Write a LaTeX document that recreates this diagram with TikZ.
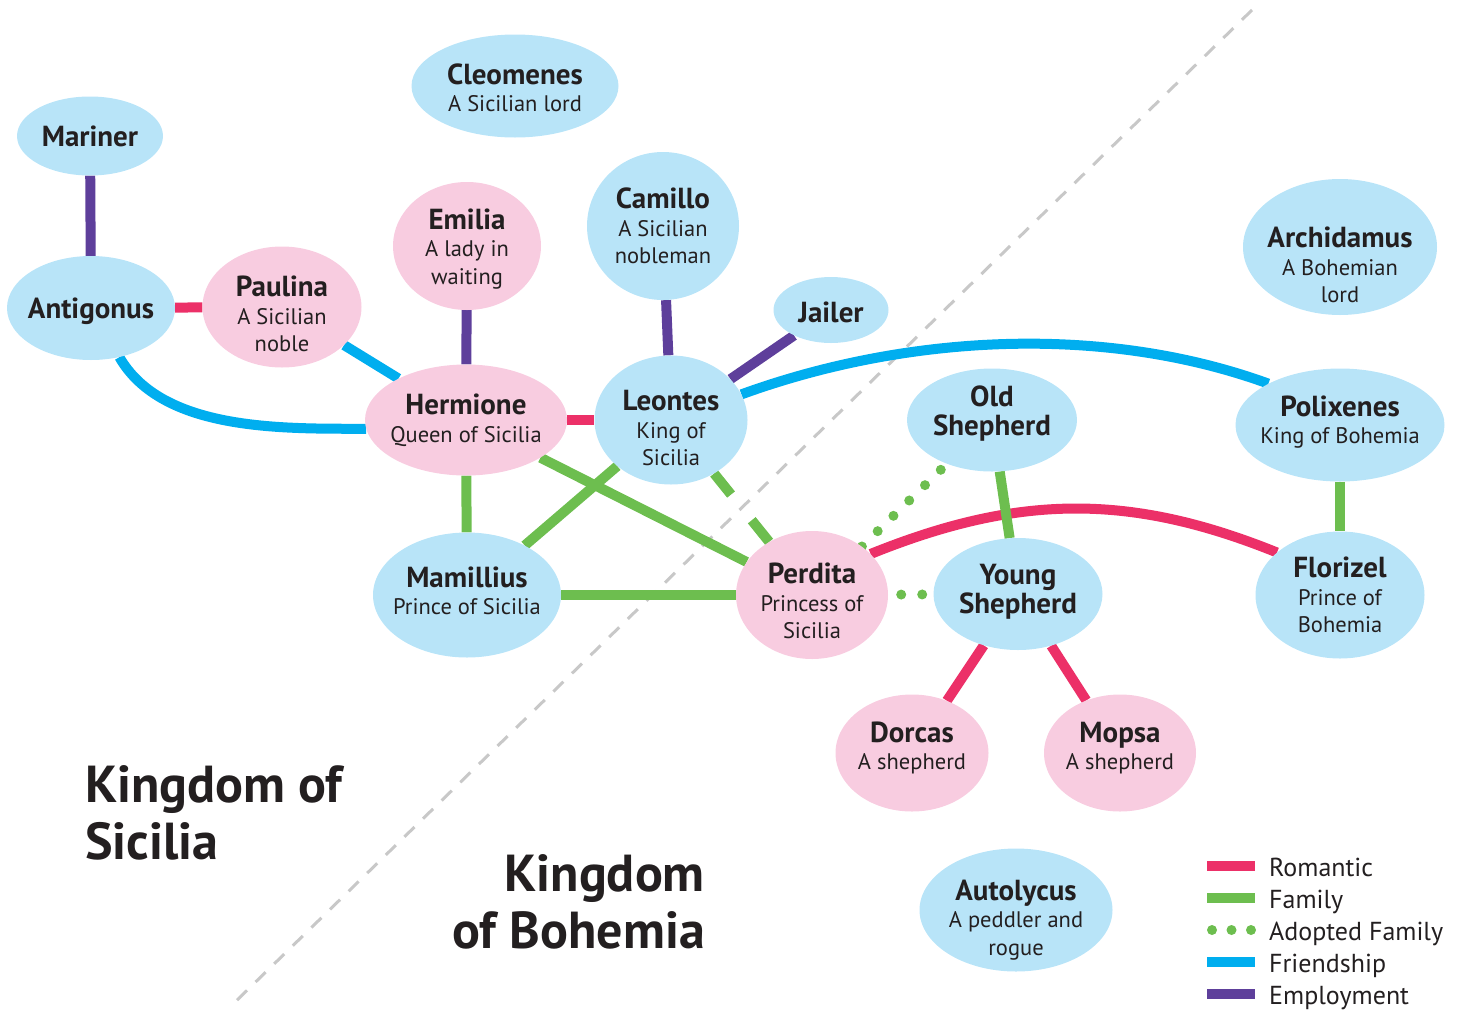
\documentclass[tikz,border=0pt]{standalone}
\usepackage{fontspec}
\setmainfont{PT Sans}
\usetikzlibrary{shapes.geometric,positioning,backgrounds}

\definecolor{ink}{HTML}{231F20}
\definecolor{skyfill}{HTML}{B8E4F8}
\definecolor{rosefill}{HTML}{F8CCE0}
\definecolor{romred}{HTML}{EC3068}
\definecolor{famgreen}{HTML}{6DBE4F}
\definecolor{friendblue}{HTML}{00AEEF}
\definecolor{employpurple}{HTML}{5E3F9B}
\definecolor{bordergray}{HTML}{C8C8C8}

\newcommand{\descfont}{\fontsize{22.5}{27.5}\selectfont}
\newcommand{\namefont}{\fontsize{29}{29}\selectfont\bfseries}
\newcommand{\who}[1]{{\namefont #1}}

\begin{document}
\begin{tikzpicture}[x=1pt, y=-1pt,
    person/.style={ellipse, inner sep=0pt},
    bluebub/.style={person, fill=skyfill},
    pinkbub/.style={person, fill=rosefill},
    tag/.style={align=center, text=ink, font=\descfont, inner sep=0pt},
    tie/.style={line width=10pt},
    romantic/.style={tie, draw=romred},
    family/.style={tie, draw=famgreen},
    adopted/.style={tie, draw=famgreen, line cap=round, dash pattern=on 0pt off 22pt},
    friendship/.style={tie, draw=friendblue},
    employment/.style={tie, draw=employpurple},
    frontier/.style={draw=bordergray, line width=3pt, dash pattern=on 14pt off 12pt},
    kingdom/.style={font=\fontsize{52}{57}\selectfont\bfseries, text=ink, inner sep=0pt},
    keytext/.style={font=\fontsize{26}{32}\selectfont, text=ink, anchor=base west, inner sep=0pt}
]
\useasboundingbox (0,0) rectangle (1462,1010);
% Sicilian court
\node[bluebub, minimum width=207pt, minimum height=103pt,
    label={[tag, yshift=-2pt]center:{\who{Cleomenes}\\A Sicilian lord}}] (cleomenes) at (515,86) {};
\node[bluebub, minimum width=146pt, minimum height=79pt,
    label={[tag, font=\namefont]center:Mariner}] (mariner) at (90,136) {};
\node[bluebub, minimum width=168pt, minimum height=104pt,
    label={[tag, font=\namefont, yshift=-3pt]center:Antigonus}] (antigonus) at (91,308) {};
\node[pinkbub, minimum width=159pt, minimum height=121pt,
    label={[tag, yshift=-7pt]center:{\who{Paulina}\\A Sicilian\\noble}}] (paulina) at (282,307) {};
\node[pinkbub, minimum width=148pt, minimum height=128pt,
    label={[tag, yshift=-3pt]center:{\who{Emilia}\\A lady in\\waiting}}] (emilia) at (467,246) {};
\node[bluebub, minimum width=152pt, minimum height=148pt,
    label={[tag]center:{\who{Camillo}\\A Sicilian\\nobleman}}] (camillo) at (663,226) {};
\node[pinkbub, minimum width=202pt, minimum height=111pt,
    label={[tag]center:{\who{Hermione}\\Queen of Sicilia}}] (hermione) at (466,420) {};
\node[bluebub, minimum width=153pt, minimum height=129pt,
    label={[tag, yshift=-8pt]center:{\who{Leontes}\\King of\\Sicilia}}] (leontes) at (671,420) {};
\node[bluebub, minimum width=115pt, minimum height=66pt,
    label={[tag, font=\namefont, yshift=-2pt]center:Jailer}] (jailer) at (831,310) {};
\node[bluebub, minimum width=188pt, minimum height=125pt,
    label={[tag, yshift=4pt]center:{\who{Mamillius}\\Prince of Sicilia}}] (mamillius) at (467,595) {};
\node[pinkbub, minimum width=152pt, minimum height=128pt,
    label={[tag, yshift=-6pt]center:{\who{Perdita}\\Princess of\\Sicilia}}] (perdita) at (812,595) {};
% Bohemian court
\node[bluebub, minimum width=170pt, minimum height=103pt,
    label={[tag, font=\namefont, yshift=6pt]center:{Old\\Shepherd}}] (oldshep) at (992,420) {};
\node[bluebub, minimum width=169pt, minimum height=112pt,
    label={[tag, font=\namefont, yshift=2pt]center:{Young\\Shepherd}}] (youngshep) at (1018,594) {};
\node[bluebub, minimum width=194pt, minimum height=136pt,
    label={[tag, yshift=-18pt]center:{\who{Archidamus}\\A Bohemian\\lord}}] (archidamus) at (1340,247) {};
\node[bluebub, minimum width=209pt, minimum height=113pt,
    label={[tag, yshift=3pt]center:{\who{Polixenes}\\King of Bohemia}}] (polixenes) at (1340,425) {};
\node[bluebub, minimum width=169pt, minimum height=127pt,
    label={[tag]center:{\who{Florizel}\\Prince of\\Bohemia}}] (florizel) at (1340,595) {};
\node[pinkbub, minimum width=153pt, minimum height=117pt,
    label={[tag, yshift=5pt]center:{\who{Dorcas}\\A shepherd}}] (dorcas) at (912,753) {};
\node[pinkbub, minimum width=152pt, minimum height=117pt,
    label={[tag, yshift=5pt]center:{\who{Mopsa}\\A shepherd}}] (mopsa) at (1120,753) {};
\node[bluebub, minimum width=193pt, minimum height=123pt,
    label={[tag, yshift=-10pt]center:{\who{Autolycus}\\A peddler and\\rogue}}] (autolycus) at (1016,910) {};
% kingdoms
\node[kingdom, anchor=north west, align=left] (sicilia) at (85,765) {Kingdom of\\Sicilia};
\node[kingdom, anchor=north east, align=right] (bohemia) at (705,854) {Kingdom\\of Bohemia};
% relations, behind the people
\begin{scope}[on background layer]
    \draw[frontier] (1252,10) -- (232,1005);
    \draw[employment] (mariner) -- (antigonus);
    \draw[employment] (emilia) -- (hermione);
    \draw[employment] (camillo) -- (leontes);
    \draw[employment] (leontes) -- (jailer);
    \draw[romantic] (antigonus) -- (paulina);
    \draw[romantic] (hermione) -- (leontes);
    \draw[romantic] (youngshep) -- (dorcas);
    \draw[romantic] (youngshep) -- (mopsa);
    \draw[romantic] (perdita.35) to[out=22, in=158] (florizel.146);
    \draw[friendship] (paulina) -- (hermione);
    \draw[friendship] (antigonus) to[out=-60, in=180, looseness=0.85] (hermione.185);
    \draw[friendship] (leontes) to[out=20, in=160, looseness=0.85] (polixenes.150);
    \draw[family] (hermione) -- (mamillius);
    \draw[family] (hermione) -- (perdita);
    \draw[family] (leontes) -- (mamillius);
    \draw[family, dash pattern=on 27pt off 33pt on 300pt] (leontes) -- (perdita);
    \draw[family] (mamillius) -- (perdita);
    \draw[family] (oldshep) -- (youngshep);
    \draw[family] (polixenes) -- (florizel);
    \draw[adopted] (perdita) -- (oldshep);
    \draw[adopted, dash pattern=on 0pt off 21pt, dash phase=8pt] (perdita) -- (youngshep);
\end{scope}
% legend
\draw[romantic] (1207,866) -- (1255,866);
\node[keytext] (keyromantic) at (1269,876) {Romantic};
\draw[family] (1207,898) -- (1255,898);
\node[keytext] (keyfamily) at (1269,908) {Family};
\draw[adopted, dash pattern=on 0pt off 19.5pt] (1212,930) -- (1252,930);
\node[keytext] (keyadopted) at (1269,940) {Adopted Family};
\draw[friendship] (1207,962) -- (1255,962);
\node[keytext] (keyfriendship) at (1269,972) {Friendship};
\draw[employment] (1207,994) -- (1255,994);
\node[keytext] (keyemployment) at (1269,1004) {Employment};
\end{tikzpicture}
\end{document}
